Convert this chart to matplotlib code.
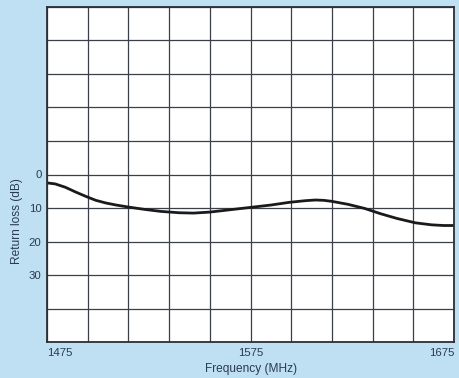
import matplotlib
matplotlib.use("Agg")
import matplotlib.pyplot as plt
import numpy as np

freq = [1475, 1479, 1484, 1489, 1494, 1499, 1504, 1509, 1515, 1523, 1531, 1540,
        1547, 1555, 1565, 1575, 1585, 1594, 1602, 1607, 1611, 1615, 1623, 1631,
        1639, 1647, 1656, 1664, 1670, 1675]
loss = [2.5, 2.8, 3.8, 5.2, 6.5, 7.7, 8.5, 9.1, 9.7, 10.4, 11.0, 11.4,
        11.5, 11.2, 10.5, 9.8, 9.1, 8.3, 7.8, 7.6, 7.7, 8.0, 8.9, 10.1,
        11.7, 13.1, 14.4, 15.0, 15.2, 15.2]
xticks = [1475, 1575, 1675]
yticks = [0, 10, 20, 30]

bg = "#bfe0f2"
txt = "#2a3a50"
plt.rcParams['font.family'] = ['Liberation Sans', 'DejaVu Sans']

fig = plt.figure(figsize=(4.6, 3.78), dpi=100, facecolor=bg)
ax = fig.add_axes([47/460, 1 - 342.3/378, (454-47)/460, (342.3-6.7)/378])
ax.set_facecolor("white")

ax.set_xlim(1475, 1675)
ax.set_ylim(50, -50)
ax.set_xticks(np.arange(1475, 1676, 20), minor=True)
ax.set_yticks(np.arange(-50, 51, 10), minor=True)
ax.set_xticks(xticks)
ax.set_yticks(yticks)
ax.grid(True, which="both", color="#3a3f48", linewidth=0.9)
ax.set_axisbelow(True)
ax.tick_params(which="both", length=0, colors=txt, labelsize=8.2)
ax.tick_params(axis="y", pad=4)
ax.tick_params(axis="x", pad=4)
labels = ax.get_xticklabels()
labels[0].set_horizontalalignment("left")
labels[-1].set_horizontalalignment("right")

for s in ax.spines.values():
    s.set_color("#2a2f38")
    s.set_linewidth(1.3)

ax.plot(freq, loss, color="#1a1a1a", linewidth=2.0, solid_capstyle="round",
        solid_joinstyle="round")

fig.text(251/460, 1 - 369/378, "Frequency (MHz)", ha="center", va="center",
         fontsize=8.6, color=txt)
fig.text(17/460, 1 - 221/378, "Return loss (dB)", ha="center", va="center",
         rotation=90, fontsize=8.6, color=txt)

fig.savefig("out.png", dpi=100, facecolor=bg)
